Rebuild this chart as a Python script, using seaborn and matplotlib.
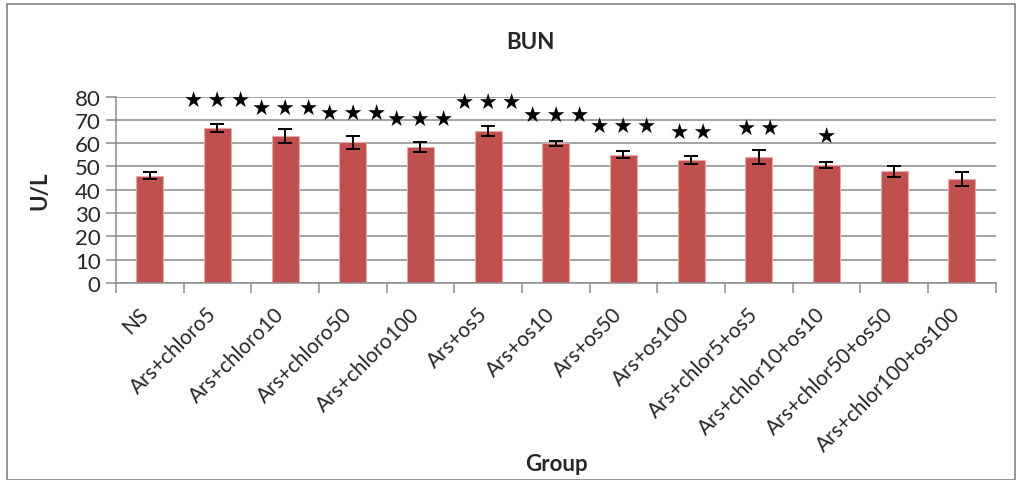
import numpy as np
import pandas as pd
import matplotlib
matplotlib.use("Agg")
import matplotlib.pyplot as plt
import seaborn as sns
from matplotlib.patches import Rectangle

groups = ["NS", "Ars+chloro5", "Ars+chloro10", "Ars+chloro50", "Ars+chloro100",
          "Ars+os5", "Ars+os10", "Ars+os50", "Ars+os100", "Ars+chlor5+os5",
          "Ars+chlor10+os10", "Ars+chlor50+os50", "Ars+chlor100+os100"]
bun = [46.0, 66.4, 63.0, 60.5, 58.2, 65.2, 59.9, 55.1, 52.6, 54.2, 50.6, 47.9, 44.5]
sd = [1.6, 1.7, 3.1, 2.8, 2.2, 2.1, 1.1, 1.4, 1.7, 3.0, 1.3, 2.3, 3.1]
n_stars = [0, 3, 3, 3, 3, 3, 3, 3, 2, 2, 1, 0, 0]

df = pd.DataFrame({"Group": groups, "BUN": bun})

sns.set_style("white")
plt.rcParams["font.family"] = ["Lato", "DejaVu Sans"]

fig = plt.figure(figsize=(10.17, 4.81), dpi=100)
ax = fig.add_axes([0.114, 0.41, 0.865, 0.387])

sns.barplot(data=df, x="Group", y="BUN", color="#C0504D", width=0.4,
            errorbar=None, edgecolor="#E6A9A7", linewidth=0.8, saturation=1, ax=ax)
ax.errorbar(np.arange(len(groups)), bun, yerr=sd, fmt="none", ecolor="black",
            elinewidth=1.4, capsize=5, capthick=1.4)

# significance stars above bars
for i, (v, n) in enumerate(zip(bun, n_stars)):
    if n:
        ax.annotate("\u2009".join(["★"] * n), (i, v), xytext=(0, 20),
                    textcoords="offset points", ha="center", va="center",
                    fontsize=15.5, family="DejaVu Sans", color="black",
                    annotation_clip=False)

ax.set_ylim(0, 80)
ax.set_yticks(range(0, 81, 10))
ax.set_xlim(-0.5, len(groups) - 0.5)
ax.yaxis.grid(True, color="#8C8C8C", linewidth=1.1)
ax.set_axisbelow(True)
for side in ["top", "right"]:
    ax.spines[side].set_visible(False)
ax.spines["left"].set_color("#8C8C8C")
ax.spines["bottom"].set_color("#8C8C8C")
ax.spines["left"].set_linewidth(1.1)
ax.spines["bottom"].set_linewidth(1.1)
ax.tick_params(axis="y", labelsize=16, length=7, width=1.1, color="#8C8C8C",
               left=True, pad=4)
ax.set_xticks(np.arange(len(groups)))
ax.set_xticklabels(groups, rotation=45, ha="right", va="baseline",
                   rotation_mode="anchor", fontsize=15)
ax.tick_params(axis="x", which="major", length=0, pad=23)
ax.set_xticks(np.arange(-0.5, len(groups), 1), minor=True)
ax.tick_params(axis="x", which="minor", length=7, width=1.1, color="#8C8C8C", bottom=True)

ax.set_ylabel("U/L", fontsize=16, fontweight="bold")
ax.yaxis.set_label_coords(-0.075, 0.5)
ax.set_xlabel("")
fig.text(0.547, 0.034, "Group", ha="center", va="center", fontsize=16, fontweight="bold")
fig.text(0.522, 0.912, "BUN", ha="center", va="center", fontsize=16, fontweight="bold")

fig.patches.append(Rectangle((0.007, 0.0), 0.991, 0.99, transform=fig.transFigure,
                             fill=False, edgecolor="#8C8C8C", linewidth=1.3))

fig.savefig("out.png", dpi=100)
